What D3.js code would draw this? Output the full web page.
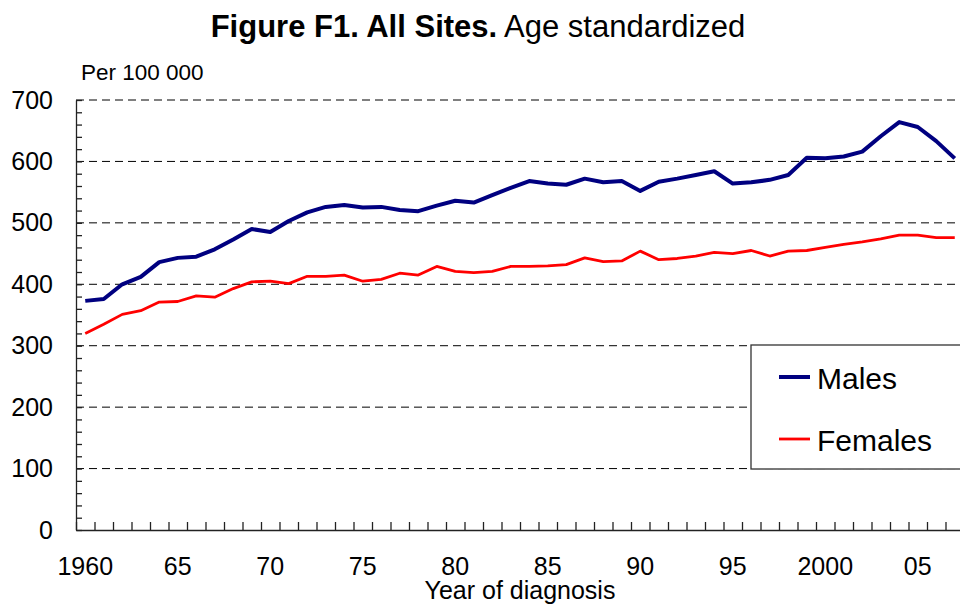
<!DOCTYPE html>
<html>
<head>
<meta charset="utf-8">
<script src="https://cdn.jsdelivr.net/npm/d3@7"></script>
<style>
  body { margin: 0; background: #fff; }
  svg { display: block; font-family: "Liberation Sans", Arial, sans-serif; }
  .grid line { stroke: #000; stroke-dasharray: 8,5; stroke-width: 1; }
  .axis path, .axis line { stroke: #222; stroke-width: 1.3; }
</style>
</head>
<body>
<svg id="chart" width="960" height="608"></svg>
<script>
// values
var years = d3.range(1960, 2008);
var males = [373, 376, 400, 412, 436, 443, 445, 457, 473, 490,
             485, 503, 517, 526, 529, 525, 526, 521, 519, 528,
             536, 533, 545, 557, 568, 564, 562, 572, 566, 568,
             552, 567, 572, 578, 584, 564, 566, 570, 578, 606,
             605, 608, 616, 641, 664, 656, 633, 605];
var females = [320, 335, 351, 357, 371, 372, 381, 379, 393, 404,
               405, 401, 413, 413, 415, 405, 408, 418, 415, 429,
               421, 419, 421, 429, 429, 430, 432, 443, 437, 438,
               454, 440, 442, 446, 452, 450, 455, 446, 454, 455,
               460, 465, 469, 474, 480, 480, 476, 476];
var labelYears = [1960, 1965, 1970, 1975, 1980, 1985, 1990, 1995, 2000, 2005];
var labelText = ["1960", "65", "70", "75", "80", "85", "90", "95", "2000", "05"];
var yTicks = [0, 100, 200, 300, 400, 500, 600, 700];

var margin = { top: 100, left: 76, right: 964, bottom: 530 };

var svg = d3.select("#chart");

var x = d3.scaleBand().domain(years).range([margin.left, margin.right]);
var xEdge = d3.scaleLinear().domain([1960, 2008]).range([margin.left, margin.right]);
var y = d3.scaleLinear().domain([0, 700]).range([margin.bottom, margin.top]);

// title
var title = svg.append("text")
    .attr("x", 478)
    .attr("y", 37)
    .attr("text-anchor", "middle")
    .style("font-size", "31px");
title.append("tspan").style("font-weight", "bold").text("Figure F1. All Sites.");
title.append("tspan").text(" Age standardized");

svg.append("text")
    .attr("x", 81)
    .attr("y", 80)
    .style("font-size", "22.5px")
    .text("Per 100 000");

// dashed gridlines
svg.append("g")
    .attr("class", "grid")
    .selectAll("line")
    .data(yTicks.slice(1))
    .enter().append("line")
    .attr("x1", margin.left)
    .attr("x2", margin.right)
    .attr("y1", function (d) { return y(d); })
    .attr("y2", function (d) { return y(d); });

// y axis, minor ticks every 20
svg.append("g")
    .attr("class", "axis")
    .attr("transform", "translate(" + margin.left + ",0)")
    .call(d3.axisLeft(y)
        .tickValues(d3.range(0, 701, 20))
        .tickSize(-6)
        .tickSizeOuter(0)
        .tickPadding(23)
        .tickFormat(function (d) { return d % 100 === 0 ? d : ""; }))
    .selectAll("text")
    .style("font-size", "25px")
    .attr("fill", "#000");

// x axis ticks on year boundaries
svg.append("g")
    .attr("class", "axis")
    .attr("transform", "translate(0," + margin.bottom + ")")
    .call(d3.axisBottom(xEdge)
        .tickValues(d3.range(1960, 2009))
        .tickSize(-8)
        .tickSizeOuter(0)
        .tickFormat(""));

// x labels centred in each year
svg.append("g")
    .attr("transform", "translate(0," + margin.bottom + ")")
    .call(d3.axisBottom(x)
        .tickValues(labelYears)
        .tickSize(0)
        .tickPadding(27)
        .tickFormat(function (d, i) { return labelText[i]; }))
    .call(function (g) { g.select(".domain").remove(); })
    .selectAll("text")
    .style("font-size", "25px")
    .attr("fill", "#000");

svg.append("text")
    .attr("x", (margin.left + margin.right) / 2)
    .attr("y", 599)
    .attr("text-anchor", "middle")
    .style("font-size", "25px")
    .text("Year of diagnosis");

var line = d3.line()
    .x(function (d, i) { return x(years[i]) + x.bandwidth() / 2; })
    .y(function (d) { return y(d); });

svg.append("path")
    .datum(females)
    .attr("fill", "none")
    .attr("stroke", "#ff0000")
    .attr("stroke-width", 2.8)
    .attr("stroke-linejoin", "round")
    .attr("d", line);

svg.append("path")
    .datum(males)
    .attr("fill", "none")
    .attr("stroke", "#000080")
    .attr("stroke-width", 4)
    .attr("stroke-linejoin", "round")
    .attr("d", line);

// legend
var legend = svg.append("g");
legend.append("rect")
    .attr("x", 751)
    .attr("y", 345)
    .attr("width", 230)
    .attr("height", 124)
    .attr("fill", "#fff")
    .attr("stroke", "#333")
    .attr("stroke-width", 1.3);

var legendItems = [
    { name: "Males", colour: "#000080", w: 4, y: 377 },
    { name: "Females", colour: "#ff0000", w: 2.8, y: 439 }
];
legendItems.forEach(function (d) {
    legend.append("line")
        .attr("x1", 779).attr("x2", 810)
        .attr("y1", d.y).attr("y2", d.y)
        .attr("stroke", d.colour)
        .attr("stroke-width", d.w);
    legend.append("text")
        .attr("x", 817)
        .attr("y", d.y + 12)
        .style("font-size", "30px")
        .text(d.name);
});
</script>
</body>
</html>
